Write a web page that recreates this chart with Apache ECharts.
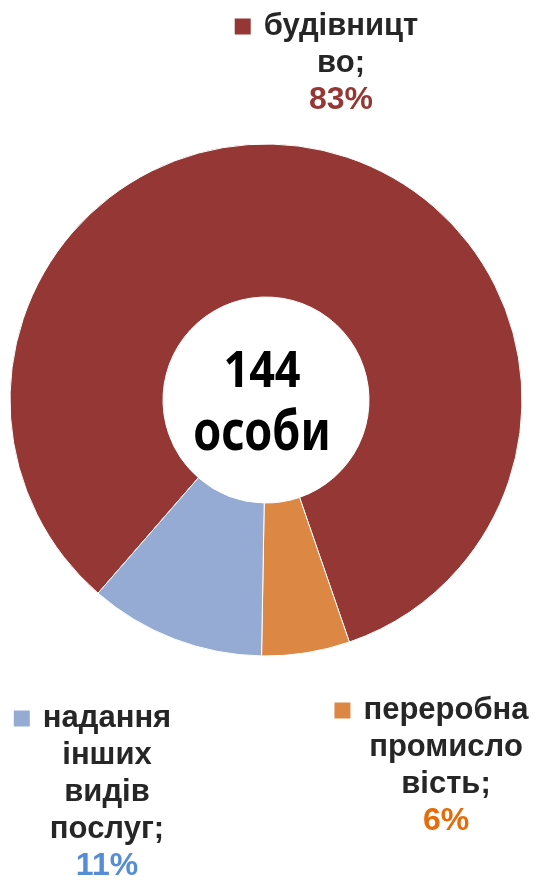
<!DOCTYPE html>
<html>
<head>
<meta charset="utf-8">
<script src="https://cdn.jsdelivr.net/npm/echarts@6/dist/echarts.min.js"></script>
<style>
  html, body { margin: 0; padding: 0; background: #fff; }
  #chart { width: 537px; height: 881px; }
</style>
</head>
<body>
<div id="chart"></div>
<script>
// дані діаграми
const categories = ['будівництво', 'переробна промисловість', 'надання інших видів послуг'];
const labelLines = [
  ['будівницт', 'во;'],
  ['переробна', 'промисло', 'вість;'],
  ['надання', 'інших', 'видів', 'послуг;']
];
const values = [120, 8, 16];
const totalLabel = ['144', 'особи'];

const sliceColors = ['#953735', '#DD8745', '#95ABD3'];
const pctColors = ['#953735', '#E46C0A', '#558ED5'];

// центр верхнього краю кожного блоку підпису
const labelPos = [
  { x: 341, y: 8 },
  { x: 446, y: 692 },
  { x: 107, y: 700 }
];

const chart = echarts.init(document.getElementById('chart'));

const rich = {
  t: { fontFamily: 'Liberation Sans, Arial', fontWeight: 'bold', fontSize: 31, color: '#262626', lineHeight: 37 },
  gap: { width: 13 },
  pad: { width: 29 }
};
sliceColors.forEach((c, i) => {
  rich['sq' + i] = { backgroundColor: c, width: 16, height: 16 };
  rich['p' + i] = { fontFamily: 'Liberation Sans, Arial', fontWeight: 'bold', fontSize: 32, color: pctColors[i], lineHeight: 37 };
});

const option = {
  backgroundColor: '#fff',
  animation: false,
  series: [
    {
      type: 'pie',
      center: [266, 400],
      radius: [103, 256],
      startAngle: 229,
      clockwise: true,
      avoidLabelOverlap: false,
      itemStyle: { borderColor: '#fff', borderWidth: 1 },
      label: {
        show: true,
        position: 'outside',
        align: 'center',
        formatter: function (p) {
          const i = p.dataIndex;
          const lines = labelLines[i];
          let s = '{sq' + i + '|}{gap|}{t|' + lines[0] + '}{pad|}';
          for (let k = 1; k < lines.length; k++) s += '\n{t|' + lines[k] + '}';
          s += '\n{p' + i + '|' + Math.round(p.percent) + '%}';
          return s;
        },
        rich: rich
      },
      labelLine: { show: false },
      labelLayout: function (params) {
        const pos = labelPos[params.dataIndex];
        return { x: pos.x, y: pos.y, align: 'center', verticalAlign: 'top' };
      },
      data: categories.map((name, i) => ({
        name: name,
        value: values[i],
        itemStyle: { color: sliceColors[i] }
      }))
    }
  ],
  graphic: [
    {
      type: 'text',
      x: 262,
      y: 373,
      scaleX: 0.9,
      style: {
        text: totalLabel[0],
        font: 'bold 50px "Noto Sans", sans-serif',
        fill: '#000',
        textAlign: 'center',
        textVerticalAlign: 'middle'
      }
    },
    {
      type: 'text',
      x: 262,
      y: 434,
      scaleX: 0.9,
      scaleY: 1.1,
      style: {
        text: totalLabel[1],
        font: 'bold 50px "Noto Sans", sans-serif',
        fill: '#000',
        textAlign: 'center',
        textVerticalAlign: 'middle'
      }
    }
  ]
};

chart.setOption(option);
</script>
</body>
</html>
